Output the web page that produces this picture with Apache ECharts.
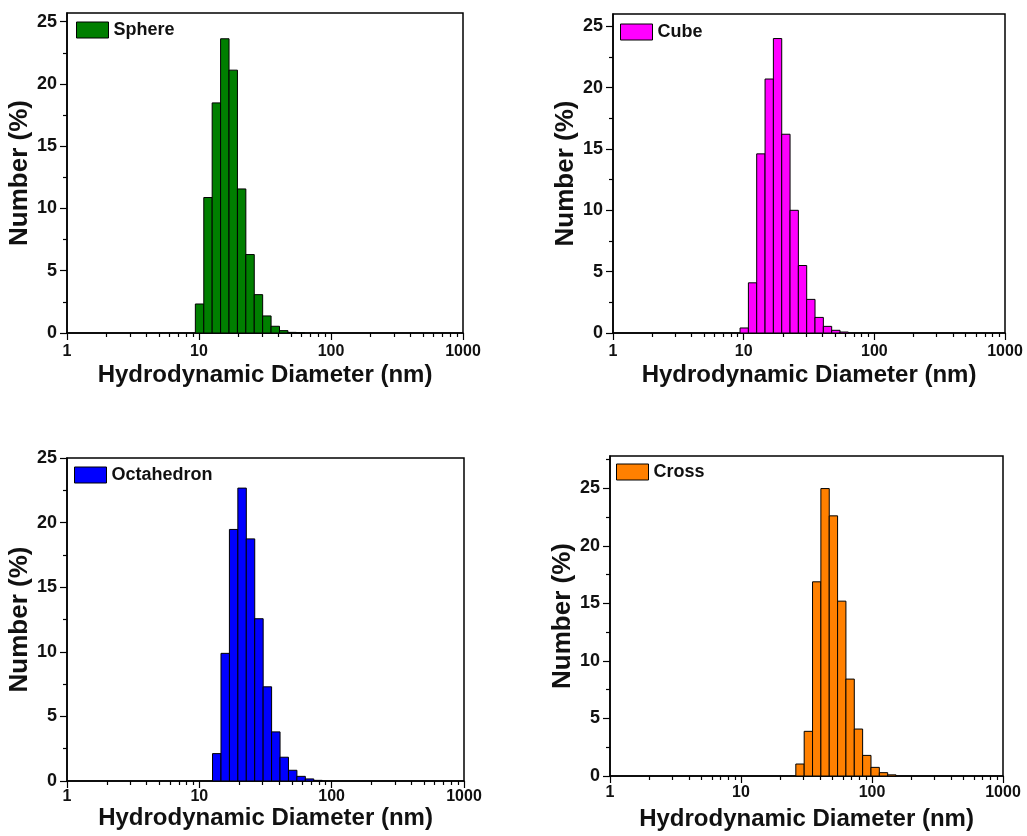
<!DOCTYPE html>
<html>
<head>
<meta charset="utf-8">
<script src="https://cdn.jsdelivr.net/npm/echarts@6/dist/echarts.min.js"></script>
<style>
html,body{margin:0;padding:0;background:#fff;}
#c{width:1027px;height:836px;}
</style>
</head>
<body>
<div id="c"></div>
<script>
// ---- data (bin centres in nm, number %) ----
const sphereSizes = [10.10, 11.70, 13.54, 15.69, 18.17, 21.04, 24.36, 28.21, 32.67, 37.84, 43.82, 50.75, 58.77];
const sphereValues = [2.33, 10.88, 18.48, 23.63, 21.11, 11.57, 6.30, 3.08, 1.37, 0.54, 0.19, 0.05, 0.01];

const cubeSizes = [10.10, 11.70, 13.54, 15.69, 18.17, 21.04, 24.36, 28.21, 32.67, 37.84, 43.82, 50.75, 58.77];
const cubeValues = [0.41, 4.09, 14.6, 20.7, 24.0, 16.2, 10.0, 5.5, 2.74, 1.27, 0.54, 0.22, 0.08];

const octaSizes = [13.54, 15.69, 18.17, 21.04, 24.36, 28.21, 32.67, 37.84, 43.82, 50.75, 58.77, 68.06, 78.82];
const octaValues = [2.12, 9.88, 19.47, 22.67, 18.74, 12.56, 7.29, 3.80, 1.84, 0.83, 0.36, 0.16, 0.05];

const crossSizes = [28.21, 32.67, 37.84, 43.82, 50.75, 58.77, 68.06, 78.82, 91.28, 105.7, 122.4, 141.8];
const crossValues = [1.04, 3.88, 16.87, 24.97, 22.6, 15.19, 8.42, 4.08, 1.79, 0.75, 0.29, 0.10];

const seriesNames = ['Sphere', 'Cube', 'Octahedron', 'Cross'];
const xMajorTicks = [1, 10, 100, 1000];
const xMinorTicks = [2,3,4,5,6,7,8,9,20,30,40,50,60,70,80,90,200,300,400,500,600,700,800,900];
const yMajorTicks = [0, 5, 10, 15, 20, 25];
const yMinorTicks = [2.5, 7.5, 12.5, 17.5, 22.5, 27.5];
const xTitle = 'Hydrodynamic Diameter (nm)';
const yTitle = 'Number (%)';

// ---- layout / style ----
const FONT = '"Liberation Sans", Arial, sans-serif';
const panels = [
  {name: seriesNames[0], sizes: sphereSizes, values: sphereValues, color: '#007F00',
   grid: {left: 67, top: 13, width: 396, height: 320}, ymax: 25.7, lblMargin: 11, nameGap: 30, legend: {left: 76, top: 21}},
  {name: seriesNames[1], sizes: cubeSizes, values: cubeValues, color: '#FF00FF',
   grid: {left: 613, top: 14, width: 392, height: 319}, ymax: 26, lblMargin: 11, nameGap: 30, legend: {left: 620, top: 23}},
  {name: seriesNames[2], sizes: octaSizes, values: octaValues, color: '#0000FF',
   grid: {left: 67, top: 458, width: 397, height: 323}, ymax: 25, lblMargin: 8, nameGap: 25, legend: {left: 74, top: 466}},
  {name: seriesNames[3], sizes: crossSizes, values: crossValues, color: '#FF8000',
   grid: {left: 610, top: 456, width: 393, height: 320}, ymax: 27.8, lblMargin: 9, nameGap: 31, legend: {left: 616, top: 463}}
];

const grids = [], xAxes = [], yAxes = [], series = [], legends = [];
panels.forEach((p, i) => {
  grids.push(Object.assign({show: true, borderColor: '#000', borderWidth: 1.5, backgroundColor: 'transparent'}, p.grid));
  // main log x axis
  xAxes.push({
    type: 'log', logBase: 10, min: 1, max: 1000, gridIndex: i, position: 'bottom',
    name: xTitle, nameLocation: 'middle', nameGap: p.nameGap,
    nameTextStyle: {fontFamily: FONT, fontWeight: 'bold', fontSize: 24, color: '#111'},
    axisLine: {show: true, lineStyle: {color: '#000', width: 1.5}},
    axisTick: {show: true, inside: false, length: 7, lineStyle: {color: '#000', width: 1.2}, customValues: xMajorTicks},
    axisLabel: {show: true, margin: p.lblMargin, fontFamily: FONT, fontWeight: 'bold', fontSize: 16, color: '#111',
      customValues: xMajorTicks, formatter: v => String(Math.round(v))},
    splitLine: {show: false}, minorTick: {show: false}
  });
  // minor tick x axis
  xAxes.push({
    type: 'log', logBase: 10, min: 1, max: 1000, gridIndex: i, position: 'bottom',
    axisLine: {show: false},
    axisTick: {show: true, inside: false, length: 4, lineStyle: {color: '#000', width: 1.2}, customValues: xMinorTicks},
    axisLabel: {show: false}, splitLine: {show: false}
  });
  yAxes.push({
    type: 'value', min: 0, max: p.ymax, interval: 5, gridIndex: i, position: 'left',
    name: yTitle, nameLocation: 'middle', nameGap: 33,
    nameTextStyle: {fontFamily: FONT, fontWeight: 'bold', fontSize: 26, color: '#111'},
    axisLine: {show: true, lineStyle: {color: '#000', width: 1.5}},
    axisTick: {show: true, inside: false, length: 7, lineStyle: {color: '#000', width: 1.2}, customValues: yMajorTicks},
    axisLabel: {show: true, margin: 10, fontFamily: FONT, fontWeight: 'bold', fontSize: 18, color: '#111', customValues: yMajorTicks},
    splitLine: {show: false}
  });
  yAxes.push({
    type: 'value', min: 0, max: p.ymax, interval: 2.5, gridIndex: i, position: 'left',
    axisLine: {show: false},
    axisTick: {show: true, inside: false, length: 4, lineStyle: {color: '#000', width: 1.2},
      customValues: yMinorTicks.filter(v => v < p.ymax)},
    axisLabel: {show: false}, splitLine: {show: false}
  });
  const r = Math.sqrt(p.sizes[1] / p.sizes[0]);
  const data = p.sizes.map((s, k) => [s / r, s * r, p.values[k]]);
  const col = p.color;
  series.push({
    type: 'custom', name: p.name, xAxisIndex: 2 * i, yAxisIndex: 2 * i,
    itemStyle: {color: col},
    encode: {x: [0, 1], y: 2},
    data: data,
    renderItem: function (params, api) {
      const a = api.coord([api.value(0), api.value(2)]);
      const b = api.coord([api.value(1), 0]);
      return {type: 'rect', shape: {x: a[0], y: a[1], width: b[0] - a[0], height: b[1] - a[1]},
        style: {fill: col, stroke: '#000', lineWidth: 1}};
    }
  });
  legends.push({
    data: [p.name], left: p.legend.left, top: p.legend.top, padding: 0, orient: 'vertical',
    itemWidth: 32, itemHeight: 16, icon: 'rect', itemGap: 0,
    itemStyle: {borderColor: '#000', borderWidth: 1},
    textStyle: {fontFamily: FONT, fontWeight: 'bold', fontSize: 18, color: '#111', padding: [0, 0, 0, 0]},
    selectedMode: false
  });
});

const chart = echarts.init(document.getElementById('c'), null, {renderer: 'canvas'});
chart.setOption({
  animation: false,
  backgroundColor: '#fff',
  grid: grids, xAxis: xAxes, yAxis: yAxes, series: series, legend: legends
});
</script>
</body>
</html>
